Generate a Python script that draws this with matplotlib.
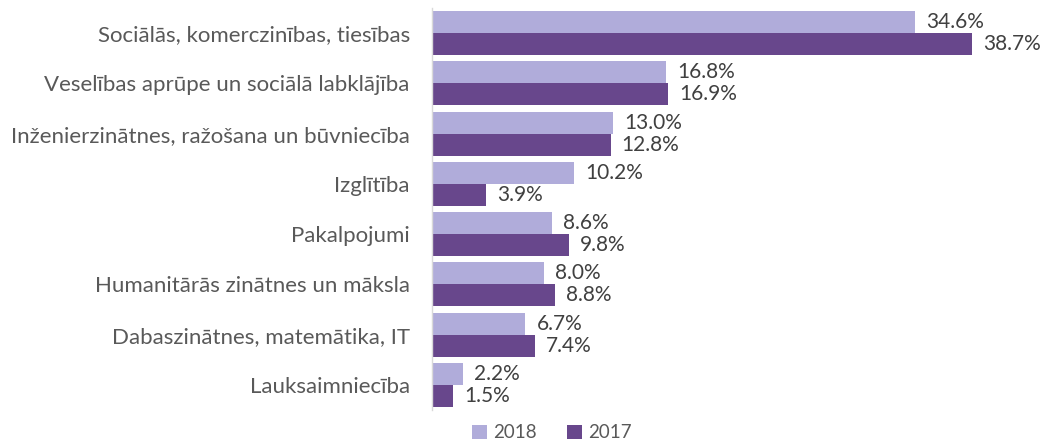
import matplotlib
matplotlib.use("Agg")
import matplotlib.pyplot as plt
import numpy as np

categories = [
    "Sociālās, komerczinības, tiesības",
    "Veselības aprūpe un sociālā labklājība",
    "Inženierzinātnes, ražošana un būvniecība",
    "Izglītība",
    "Pakalpojumi",
    "Humanitārās zinātnes un māksla",
    "Dabaszinātnes, matemātika, IT",
    "Lauksaimniecība",
]
values_2018 = [34.6, 16.8, 13.0, 10.2, 8.6, 8.0, 6.7, 2.2]
values_2017 = [38.7, 16.9, 12.8, 3.9, 9.8, 8.8, 7.4, 1.5]
series_names = ["2018", "2017"]

plt.rcParams['font.family'] = ['Lato', 'DejaVu Sans']

light = "#B0ACDA"
dark = "#68478C"

fig = plt.figure(figsize=(10.47, 4.43), dpi=100)
ax = fig.add_axes([432/1047, 1-410/443, (1046-432)/1047, 402/443])

y = np.arange(len(categories))
h = 0.44
b1 = ax.barh(y - h/2, values_2018, height=h, color=light, label=series_names[0])
b2 = ax.barh(y + h/2, values_2017, height=h, color=dark, label=series_names[1])

for bars, vals in ((b1, values_2018), (b2, values_2017)):
    for rect, v in zip(bars, vals):
        ax.annotate(f"{v:.1f}%", (rect.get_width(), rect.get_y() + rect.get_height()/2),
                    xytext=(8, 0), textcoords="offset points", va="center", ha="left",
                    fontsize=15, color="#404040")

ax.set_ylim(len(categories) - 0.5, -0.5)
ax.set_xlim(0, 44)
ax.set_yticks(y)
ax.set_yticklabels(categories, fontsize=16, color="#595959")
ax.tick_params(axis='y', length=0, pad=16)
ax.set_xticks([])
for s in ["top", "right", "bottom"]:
    ax.spines[s].set_visible(False)
ax.spines["left"].set_color("#D9D9D9")
ax.spines["left"].set_linewidth(1)

leg = fig.legend(handles=[b1, b2], labels=series_names, loc="center", bbox_to_anchor=(552/1047, 1-433/443),
                 ncol=2, frameon=False, fontsize=13.5, handlelength=0.8, handleheight=0.8,
                 handletextpad=0.35, columnspacing=1.6, labelcolor="#595959")

fig.savefig("out.png", dpi=100)
